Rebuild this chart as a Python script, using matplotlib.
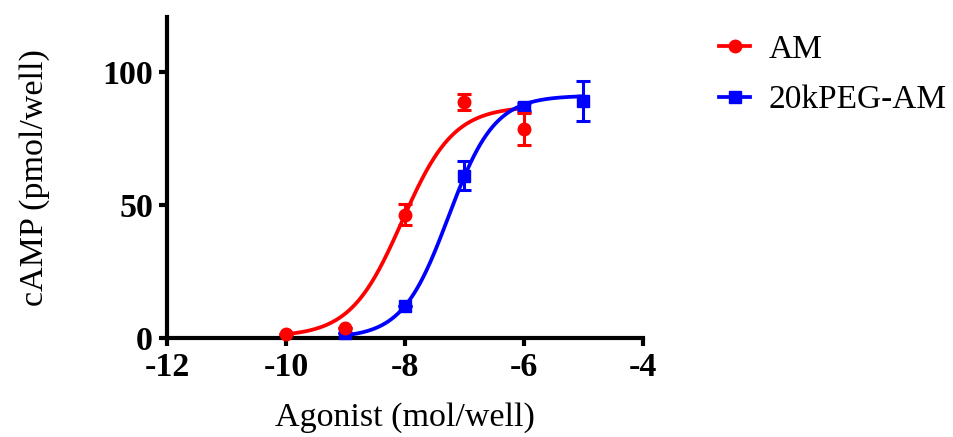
import numpy as np
import matplotlib
matplotlib.use("Agg")
import matplotlib.pyplot as plt
from matplotlib.lines import Line2D

plt.rcParams['font.family'] = ['Liberation Serif', 'DejaVu Serif']

# Data (log agonist, cAMP mean, SEM)
am_x = [-10, -9, -8, -7, -6]
am_y = [1.5, 3.6, 46.3, 88.5, 78.5]
am_err = [0.0, 0.0, 4.0, 3.0, 6.0]

peg_x = [-9, -8, -7, -6, -5]
peg_y = [1.8, 12.0, 61.0, 86.8, 89.0]
peg_err = [0.0, 0.0, 5.5, 1.5, 7.5]

# Sigmoidal fit parameters (bottom, top, logEC50, hill)
am_fit = (0.5, 87.0, -8.05, 1.0)
peg_fit = (0.0, 91.0, -7.27, 1.12)

series_names = ["AM", "20kPEG-AM"]
xticks = [-12, -10, -8, -6, -4]
yticks = [0, 50, 100]

RED = "#FF0000"
BLUE = "#0000FF"

def sigmoid(x, p):
    b, t, e, h = p
    return b + (t - b) / (1 + 10 ** ((e - x) * h))

fig = plt.figure(figsize=(9.54, 4.37), dpi=100)
ax = fig.add_axes([0.175, 0.2265, 0.499, 0.7345])

xa = np.linspace(min(am_x), max(am_x), 300)
xp = np.linspace(min(peg_x), max(peg_x), 300)
ax.plot(xa, sigmoid(xa, am_fit), color=RED, lw=2.7, zorder=2, solid_capstyle='butt')
ax.plot(xp, sigmoid(xp, peg_fit), color=BLUE, lw=2.7, zorder=2, solid_capstyle='butt')

ax.errorbar(peg_x, peg_y, yerr=peg_err, fmt='s', color=BLUE, ms=8.5,
            elinewidth=2.2, capsize=5, capthick=2.2, zorder=3, clip_on=False)
ax.errorbar(am_x, am_y, yerr=am_err, fmt='o', color=RED, ms=9,
            elinewidth=2.2, capsize=5, capthick=2.2, zorder=4, clip_on=False)

ax.set_xlim(-12, -4)
ax.set_ylim(0, 120.5)
ax.set_xticks(xticks)
ax.set_yticks(yticks)
ax.set_xticklabels([str(t) for t in xticks], fontsize=24.5, fontweight='bold')
ax.set_yticklabels([str(t) for t in yticks], fontsize=24.5, fontweight='bold')
ax.tick_params(direction='out', length=6, width=3, pad=4)
for s in ['top', 'right']:
    ax.spines[s].set_visible(False)
for s in ['left', 'bottom']:
    ax.spines[s].set_linewidth(3)

ax.set_xlabel("Agonist (mol/well)", fontsize=24.5, labelpad=14)
ax.set_ylabel("cAMP (pmol/well)", fontsize=24.5, labelpad=38)

handles = [
    Line2D([], [], color=RED, lw=2.7, marker='o', ms=9),
    Line2D([], [], color=BLUE, lw=2.7, marker='s', ms=8.5),
]
fig.legend(handles, series_names, loc='upper left', bbox_to_anchor=(0.722, 0.99),
           frameon=False, fontsize=24, handlelength=0.95, handletextpad=0.55,
           labelspacing=0.6)

fig.savefig("out.png", dpi=100)
